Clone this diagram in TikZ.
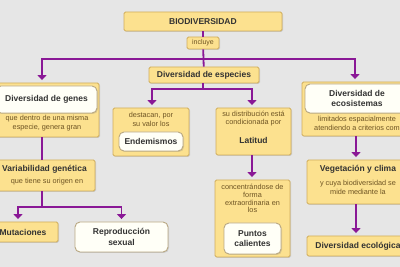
\documentclass[tikz,border=0pt]{standalone}
\usepackage{fontspec}
\setmainfont{Liberation Sans}
\usetikzlibrary{arrows.meta,shadows}
\definecolor{bgc}{HTML}{E6E6E6}
\definecolor{yfill}{HTML}{FCE18F}
\definecolor{yedge}{HTML}{D0AD5C}
\definecolor{wedge}{HTML}{B9A883}
\definecolor{purp}{HTML}{8A1896}
\definecolor{maintxt}{HTML}{333333}
\definecolor{subtxt}{HTML}{6E5423}
\begin{document}
\begin{tikzpicture}[x=1pt,y=-1pt,
  ybox/.style={draw=yedge, line width=0.9pt, fill=yfill, rounded corners=1.5pt,
    drop shadow={shadow xshift=1pt, shadow yshift=-1pt, opacity=0.25},
    inner sep=0pt, align=center, text=maintxt},
  wbox/.style={draw=wedge, line width=0.9pt, fill=white!97!yellow, rounded corners=5pt,
    drop shadow={shadow xshift=1pt, shadow yshift=-1pt, opacity=0.25},
    inner sep=0pt, align=center, text=maintxt},
  bold/.style={font=\fontsize{8.5}{10}\selectfont\bfseries, text=maintxt, align=center, inner sep=0pt},
  subt/.style={font=\fontsize{7.3}{8.8}\selectfont, text=subtxt, align=center, inner sep=0pt},
  conn/.style={draw=purp, line width=1.8pt},
  arr/.style={conn, -{Triangle[width=9pt,length=5pt]}, shorten >=2.5pt}
]
\fill[bgc] (0,0) rectangle (400,267);
\useasboundingbox (0,0) rectangle (400,267);
\clip (0,0) rectangle (400,267);

% top
\node[ybox, minimum width=158pt, minimum height=19pt, font=\fontsize{8.5}{10}\selectfont\bfseries] (bio) at (203,21.5) {BIODIVERSIDAD};
\node[ybox, minimum width=32pt, minimum height=12pt, font=\fontsize{7}{8}\selectfont, text=subtxt] (incl) at (203,43) {incluye};
\node[ybox, minimum width=110pt, minimum height=16pt, font=\fontsize{8.5}{10}\selectfont\bfseries] (esp) at (204,75) {Diversidad de especies};

% genes column
\node[ybox, minimum width=105pt, minimum height=54pt] (genesO) at (46.5,110) {};
\node[wbox, minimum width=101pt, minimum height=27pt, font=\fontsize{8.5}{10}\selectfont\bfseries] (genesI) at (46.5,99.5) {Diversidad de genes};
\node[subt] (genesS) at (47,123.5) {que dentro de una misma\\especie, genera gran};

\node[ybox, minimum width=101pt, minimum height=31pt] (var) at (44.5,175.5) {};
\node[bold] (varT) at (44.5,169) {Variabilidad genética};
\node[subt] (varS) at (47,182) {que tiene su origen en};

\node[ybox, minimum width=70pt, minimum height=20pt, font=\fontsize{8.5}{10}\selectfont\bfseries] (mut) at (23,232) {Mutaciones};
\node[wbox, minimum width=93pt, minimum height=30pt, font=\fontsize{8.5}{10.5}\selectfont\bfseries] (repro) at (121.5,237) {Reproducción\\sexual};

% endemismos
\node[ybox, minimum width=76pt, minimum height=48pt] (endO) at (151,132) {};
\node[subt] (endS) at (151,119.5) {destacan, por\\su valor los};
\node[wbox, minimum width=64pt, minimum height=19pt, font=\fontsize{8.5}{10}\selectfont\bfseries] (endI) at (151,141.5) {Endemismos};

% latitud
\node[ybox, minimum width=75pt, minimum height=47pt] (lat) at (253.5,131.5) {};
\node[subt] (latS) at (253.5,118.5) {su distribución está\\condicionada por};
\node[bold] (latT) at (253.5,140) {Latitud};

\node[ybox, minimum width=75pt, minimum height=77pt] (ptsO) at (252.5,218.5) {};
\node[subt, font=\fontsize{7.3}{7.7}\selectfont] (ptsS) at (252.5,198.5) {concentrándose de\\forma\\extraordinaria en\\los};
\node[wbox, minimum width=57pt, minimum height=31pt, font=\fontsize{8.5}{10.5}\selectfont\bfseries] (ptsI) at (252.5,238.5) {Puntos\\calientes};

% ecosistemas
\node[ybox, minimum width=110pt, minimum height=54pt] (ecoO) at (357,109) {};
\node[wbox, minimum width=104pt, minimum height=29pt, font=\fontsize{8.5}{10.5}\selectfont\bfseries] (ecoI) at (357,98.5) {Diversidad de\\ecosistemas};
\node[subt] (ecoS) at (357,123.5) {limitados espacialmente\\atendiendo a criterios com};

\node[ybox, minimum width=102pt, minimum height=44pt] (veg) at (358,182) {};
\node[bold] (vegT) at (358,169) {Vegetación y clima};
\node[subt] (vegS) at (358,187) {y cuya biodiversidad se\\mide mediante la};

\node[ybox, minimum width=102pt, minimum height=20pt, font=\fontsize{8.5}{10}\selectfont\bfseries] (ecol) at (358,246) {Diversidad ecológica};

% connectors
\coordinate (h1) at (203,59);
\coordinate (h2) at (203,89);
\coordinate (h3) at (42,207);
\draw[conn] (bio) -- (incl);
\draw[conn] (incl) -- (esp);
\draw[arr] (h1) -| ([xshift=-4.5pt]genesO.north);
\draw[arr] (h1) -| ([xshift=-2pt]ecoO.north);
\draw[conn] ([xshift=-1pt]esp.south) -- (h2);
\draw[arr] (h2) -| ([xshift=1pt]endO.north);
\draw[arr] (h2) -| ([xshift=-1.5pt]lat.north);
\draw[conn] ([xshift=-4.5pt]genesO.south) -- ([xshift=-2.5pt]var.north);
\draw[conn] ([xshift=-2.5pt]var.south) -- (h3);
\draw[arr] (h3) -| ([xshift=-5pt]mut.north);
\draw[arr] (h3) -| (repro.north);
\draw[arr] ([xshift=-1.5pt]lat.south) -- ([xshift=-0.5pt]ptsO.north);
\draw[arr] ([xshift=-1pt]ecoO.south) -- ([xshift=-2pt]veg.north);
\draw[arr] ([xshift=-2pt]veg.south) -- ([xshift=-2pt]ecol.north);
\end{tikzpicture}
\end{document}
